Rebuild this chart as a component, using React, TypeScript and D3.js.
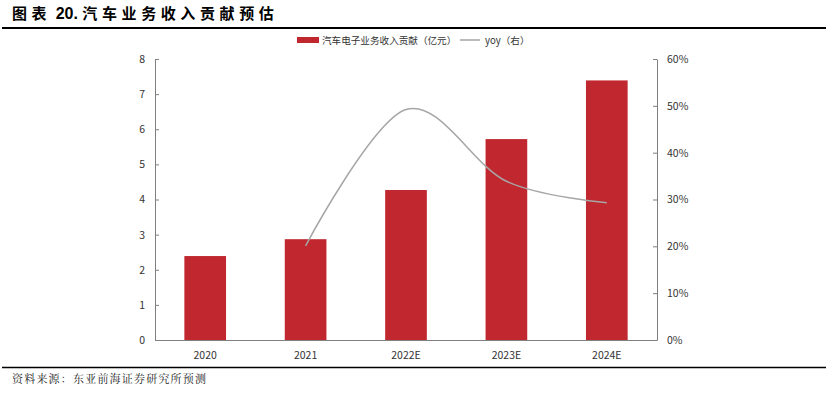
import { useEffect, useRef } from 'react';
import * as d3 from 'd3';

const categories = ['2020', '2021', '2022E', '2023E', '2024E'];
const revenue = [2.39, 2.87, 4.27, 5.72, 7.39];
// yoy in %, first year has no value
const yoy: (number | null)[] = [null, 20.1, 49.2, 33.9, 29.3];
const leftTicks = [0, 1, 2, 3, 4, 5, 6, 7, 8];
const rightTicks = [0, 10, 20, 30, 40, 50, 60];

const App = () => {
  const svgRef = useRef<SVGSVGElement>(null);

  useEffect(() => {
    if (!svgRef.current) return;
    const svg = d3.select(svgRef.current);
    svg.selectAll('*').remove();

    const width = 835;
    const height = 401;
    const plot = { left: 155, right: 657, top: 59, bottom: 340 };
    const font = '"Noto Sans CJK SC", "Open Sans", sans-serif';
    const barColor = '#C1272F';
    const axisColor = '#808080';

    svg.attr('width', width).attr('height', height);

    // Title and rules
    const title = svg.append('text')
      .attr('x', 12).attr('y', 19)
      .attr('font-family', '"Noto Sans CJK SC", sans-serif')
      .attr('font-weight', 'bold')
      .attr('font-size', 15)
      .attr('fill', '#000');
    title.append('tspan').attr('letter-spacing', 4.6).text('图表');
    title.append('tspan')
      .attr('font-family', '"Liberation Sans", Arial, sans-serif')
      .attr('font-size', 16)
      .text(' 20. ');
    title.append('tspan').attr('letter-spacing', 4.6).text('汽车业务收入贡献预估');
    svg.append('line')
      .attr('x1', 2).attr('x2', 826).attr('y1', 28).attr('y2', 28)
      .attr('stroke', '#000').attr('stroke-width', 2);
    svg.append('line')
      .attr('x1', 2).attr('x2', 826).attr('y1', 367.5).attr('y2', 367.5)
      .attr('stroke', '#000').attr('stroke-width', 1.5);
    svg.append('text')
      .attr('x', 12).attr('y', 383)
      .attr('font-family', '"Noto Serif CJK SC", "Noto Sans CJK SC", serif')
      .attr('font-size', 11)
      .attr('letter-spacing', 1.2)
      .attr('fill', '#222')
      .text('资料来源：东亚前海证券研究所预测');

    const x = d3.scaleBand<string>()
      .domain(categories)
      .range([plot.left, plot.right])
      .padding(0);
    const barW = x.bandwidth() * 0.415;

    const yL = d3.scaleLinear().domain([0, 8]).range([plot.bottom, plot.top]);
    const yR = d3.scaleLinear().domain([0, 60]).range([plot.bottom, plot.top]);

    // Bars
    svg.selectAll('.bar')
      .data(categories)
      .enter()
      .append('rect')
      .attr('x', d => (x(d) || 0) + x.bandwidth() / 2 - barW / 2)
      .attr('y', (_, i) => yL(revenue[i]))
      .attr('width', barW)
      .attr('height', (_, i) => plot.bottom - yL(revenue[i]))
      .attr('fill', barColor);

    // yoy smooth line
    const pts = categories
      .map((c, i) => ({ c, v: yoy[i] }))
      .filter(p => p.v !== null) as { c: string; v: number }[];
    const line = d3.line<{ c: string; v: number }>()
      .x(d => (x(d.c) || 0) + x.bandwidth() / 2)
      .y(d => yR(d.v))
      .curve(d3.curveCardinal.tension(0));
    svg.append('path')
      .attr('d', line(pts) || '')
      .attr('fill', 'none')
      .attr('stroke', '#A6A6A6')
      .attr('stroke-width', 1.5);

    // Left axis
    const gL = svg.append('g').attr('transform', `translate(${plot.left},0)`);
    gL.call(d3.axisLeft(yL).tickValues(leftTicks).tickSizeInner(-4).tickSizeOuter(0).tickPadding(10));
    gL.select('.domain').attr('stroke', axisColor);
    gL.selectAll('.tick line').attr('stroke', axisColor);
    gL.selectAll('.tick text')
      .attr('font-family', font).attr('font-size', 10.5).attr('fill', '#333');

    // Right axis
    const gR = svg.append('g').attr('transform', `translate(${plot.right},0)`);
    gR.call(d3.axisRight(yR).tickValues(rightTicks).tickFormat(d => `${d}%`)
      .tickSizeInner(-4).tickSizeOuter(0).tickPadding(10));
    gR.select('.domain').attr('stroke', axisColor);
    gR.selectAll('.tick line').attr('stroke', axisColor);
    gR.selectAll('.tick text')
      .attr('font-family', font).attr('font-size', 10.5).attr('fill', '#333');

    // Bottom axis
    const gB = svg.append('g').attr('transform', `translate(0,${plot.bottom})`);
    gB.call(d3.axisBottom(x).tickSize(0).tickPadding(12));
    gB.select('.domain').attr('stroke', axisColor);
    gB.selectAll('.tick text')
      .attr('font-family', font).attr('font-size', 10.5).attr('fill', '#333');

    // Legend
    const lg = svg.append('g').attr('font-family', font).attr('font-size', 9.6).attr('fill', '#333');
    lg.append('rect')
      .attr('x', 297).attr('y', 37).attr('width', 22).attr('height', 6)
      .attr('fill', barColor);
    lg.append('text').attr('x', 322).attr('y', 43.5).text('汽车电子业务收入贡献（亿元）');
    lg.append('line')
      .attr('x1', 460).attr('x2', 480).attr('y1', 40).attr('y2', 40)
      .attr('stroke', '#A6A6A6').attr('stroke-width', 1.5);
    lg.append('text').attr('x', 485).attr('y', 43.5).text('yoy（右）');
  }, []);

  return <svg ref={svgRef} style={{ position: 'absolute', left: 0, top: 0 }} />;
};

export default App;
